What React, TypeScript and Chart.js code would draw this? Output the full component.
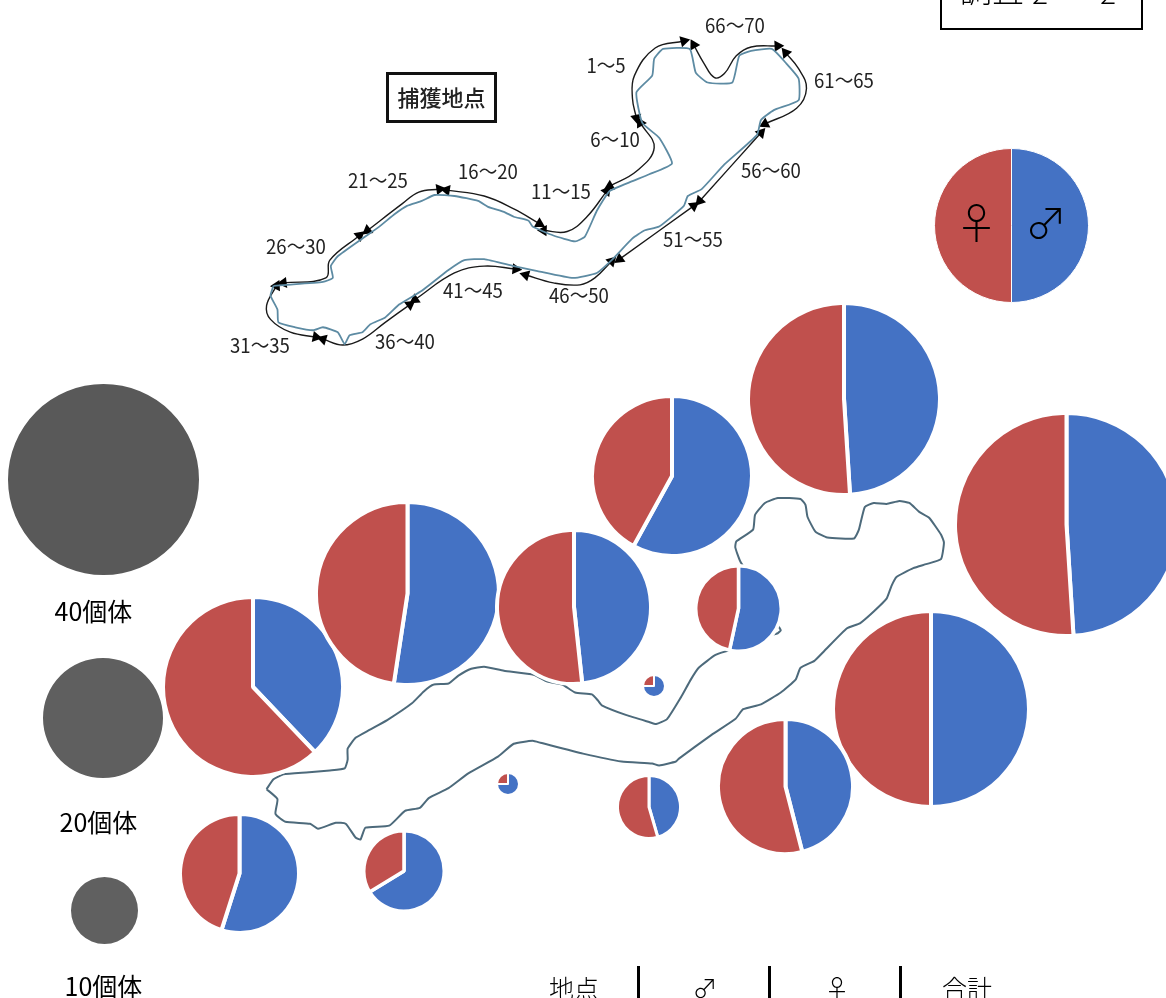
import React, { useEffect, useRef } from "react";
import { Chart, registerables } from "chart.js";

Chart.register(...registerables);

const BLUE = "#4472C4";
const RED = "#C0504D";
const FONT = '"Noto Sans CJK JP", sans-serif';

// --- Data ---
const sexLabels = ["♂", "♀"];
const sitePieNames = ["凡例", "a", "b", "c", "d", "e", "f", "g", "h", "i", "j", "k", "l", "m", "n"];
const maleShare = [50, 49, 58, 49, 37.9, 52.4, 48.3, 53.4, 50, 46, 45.5, 54.9, 66.3, 75, 75];
const femaleShare = [50, 51, 42, 51, 62.1, 47.6, 51.7, 46.6, 50, 54, 54.5, 45.1, 33.7, 25, 25];
const scaleLabels = ["40個体", "20個体", "10個体"];
const tableHeaders = ["地点", "♂", "♀", "合計"];
const boxTitle = "捕獲地点";
const rangeLabels = ["1～5", "6～10", "11～15", "16～20", "21～25", "26～30", "31～35", "36～40", "41～45", "46～50", "51～55", "56～60", "61～65", "66～70"];

type P = [number, number];

const lowerCoastA: P[] = [
  [263,793],[270,783],[280,778],[303,776],[327,774],[342,772],[345,763],[345,752],[353,741],[367,733],[385,723],[410,706],[422,694],[432,687],[447,686],[457,678],[470,671],[483,669],[503,673],[533,677],[547,684],[562,687],[575,695],[592,697],[598,703],[602,708],[627,718],[650,725],[657,727],[668,722],[682,700],[692,682],[700,670],[717,657],[733,652],[755,648],[770,638],[780,635],[783,632],[780,627],[765,600],[742,562],[737,548],[738,542],[755,530],[757,515],[767,503],[780,498],[803,499],[808,505],[810,517],[818,532],[830,538],[857,539],[862,530],[868,507],[877,503],[890,504],[903,501],[913,503],[923,512],[933,518],[945,535],[948,543],[945,560],[930,565],[917,569],[900,578],[895,587],[890,600],[877,613],[863,625],[850,630],[827,653],[817,663],[803,670],[798,682],[783,695],[763,707],[745,712],[737,722],[713,738],[680,762],[677,765],[660,769],[653,767],[622,765],[583,757],[540,746],[532,744],[513,747],[497,760],[467,777],[447,792],[427,802],[418,812],[403,815],[387,830],[363,832],[358,844],[353,842],[343,828],[333,827],[315,833],[307,828],[282,826],[272,818],[274,803],[263,793],
];

const upperCoast: P[] = [
  [270,283],[283,282],[320,279],[330,275],[328,263],[335,253],[360,235],[377,223],[393,210],[405,202],[420,197],[433,191],[453,192],[477,197],[487,203],[503,208],[513,213],[528,217],[532,223],[553,232],[575,238],[585,233],[597,207],[610,187],[633,177],[650,170],[673,159],[660,133],[643,118],[637,87],[653,70],[655,53],[664,43],[691,43],[697,67],[709,77],[734,77],[741,50],[753,45],[774,43],[788,57],[801,73],[801,95],[776,105],[763,115],[759,130],[726,160],[703,185],[689,192],[685,202],[660,223],[645,227],[633,235],[612,257],[597,270],[573,275],[537,268],[513,263],[483,256],[463,257],[447,267],[420,288],[397,302],[383,315],[368,322],[360,330],[347,333],[342,342],[335,330],[320,325],[310,328],[292,325],[275,320],[274,307],[267,293],[270,283],
];

const rangeArrows: P[][] = [
  [[685,35],[656,42],[635,70],[633,93],[637,113]],
  [[610,182],[637,167],[655,143],[641,118]],
  [[543,227],[567,228],[587,213],[607,187]],
  [[445,186],[483,192],[513,205],[539,220]],
  [[365,227],[400,200],[417,188],[438,185]],
  [[280,280],[323,275],[327,257],[357,232]],
  [[313,335],[287,330],[267,317],[263,303],[273,283]],
  [[408,302],[383,320],[360,337],[340,343],[320,337]],
  [[515,266],[483,263],[453,270],[413,297]],
  [[612,258],[595,275],[580,282],[553,280],[525,272]],
  [[695,202],[620,256]],
  [[763,128],[701,197]],
  [[788,47],[801,63],[809,83],[799,103],[767,119]],
  [[695,39],[705,57],[716,72],[726,68],[738,50],[753,41],[780,40]],
];

// --- Layout (pixels on the page) ---
const pieLayout: { cx: number; cy: number; r: number; bw: number }[] = [
  { cx: 1011.5, cy: 225.5, r: 77, bw: 1 },
  { cx: 843.5, cy: 398.5, r: 95.5, bw: 4 },
  { cx: 672, cy: 475.5, r: 79.5, bw: 4 },
  { cx: 1066, cy: 524.5, r: 111, bw: 4 },
  { cx: 252.5, cy: 686.5, r: 89.5, bw: 4 },
  { cx: 407.5, cy: 593.5, r: 91, bw: 4 },
  { cx: 574, cy: 606.5, r: 76.5, bw: 4 },
  { cx: 738, cy: 608, r: 42, bw: 3.5 },
  { cx: 931, cy: 708.5, r: 97.5, bw: 4 },
  { cx: 785, cy: 786, r: 67, bw: 4 },
  { cx: 649, cy: 807, r: 31, bw: 3 },
  { cx: 239, cy: 873, r: 59, bw: 4 },
  { cx: 404, cy: 870.5, r: 39.5, bw: 3.5 },
  { cx: 654, cy: 686, r: 10.5, bw: 2 },
  { cx: 507.5, cy: 784, r: 10.5, bw: 2 },
];
const scaleCircles = [
  { cx: 103.5, cy: 479.5, r: 95.5, color: "#595959", lx: 93.5, ly: 609.5 },
  { cx: 102.5, cy: 717.5, r: 60, color: "#5f5f5f", lx: 98.5, ly: 820.5 },
  { cx: 104.5, cy: 910, r: 33.5, color: "#606060", lx: 103.5, ly: 985 },
];
const rangeLabelPos: P[] = [
  [606,65],[615,139],[561,191],[488,171],[378,180],[296,246],[260,345],[405,341],[473,290],[579,295],[693,239],[771,170],[844,80],[735,25],
];
const headerPos: P[] = [[574,987],[705,987],[837,987],[967,987]];
const separatorX = [638, 769, 900];

function Pie({ values, colors, layout }: { values: number[]; colors: string[]; layout: { cx: number; cy: number; r: number; bw: number } }) {
  const ref = useRef<HTMLCanvasElement>(null);
  const size = Math.round(2 * layout.r + (4 * layout.bw) / 3);
  useEffect(() => {
    const chart = new Chart(ref.current!, {
      type: "pie",
      data: {
        labels: values.length > 1 ? sexLabels : ["個体"],
        datasets: [{ data: values, backgroundColor: colors, borderColor: "#ffffff", borderWidth: layout.bw, hoverOffset: 0 }],
      },
      options: {
        animation: false,
        responsive: false,
        devicePixelRatio: 1,
        layout: { padding: 0 },
        plugins: { legend: { display: false }, tooltip: { enabled: false } },
      },
    });
    return () => chart.destroy();
  }, []);
  return (
    <canvas
      ref={ref}
      width={size}
      height={size}
      style={{ position: "absolute", left: layout.cx - size / 2, top: layout.cy - size / 2, width: size, height: size }}
    />
  );
}

function MapChart() {
  const ref = useRef<HTMLCanvasElement>(null);
  useEffect(() => {
    const toXY = (pts: P[]) => pts.map(([x, y]) => ({ x, y }));
    const rotation = (pts: P[], i: number) => {
      const a = i === 0 ? pts[1] : pts[pts.length - 2];
      const b = pts[i];
      return (Math.atan2(b[0] - a[0], -(b[1] - a[1])) * 180) / Math.PI;
    };
    const chart = new Chart(ref.current!, {
      type: "scatter",
      data: {
        datasets: [
          { data: toXY(lowerCoastA), showLine: true, borderColor: "#4d6a7b", borderWidth: 2, tension: 0.15, pointRadius: 0 },
          { data: toXY(upperCoast), showLine: true, borderColor: "#5d8ba3", borderWidth: 1.8, tension: 0.15, pointRadius: 0 },
          ...rangeArrows.map((pts) => ({
            data: toXY(pts),
            showLine: true,
            borderColor: "#1a1a1a",
            borderWidth: 1.4,
            tension: 0.4,
            pointStyle: "triangle" as const,
            pointBackgroundColor: "#000000",
            pointBorderColor: "#000000",
            pointBorderWidth: 0,
            pointRadius: (c: any) => (c.dataIndex === 0 || c.dataIndex === pts.length - 1 ? 6.5 : 0),
            pointRotation: (c: any) =>
              c.dataIndex === 0 ? rotation(pts, 0) : c.dataIndex === pts.length - 1 ? rotation(pts, pts.length - 1) : 0,
          })),
        ],
      },
      options: {
        animation: false,
        responsive: false,
        devicePixelRatio: 1,
        layout: { padding: 0 },
        plugins: { legend: { display: false }, tooltip: { enabled: false } },
        scales: {
          x: { type: "linear", min: 0, max: 1166, display: false },
          y: { type: "linear", min: 0, max: 998, reverse: true, display: false },
        },
      },
    });
    return () => chart.destroy();
  }, []);
  return <canvas ref={ref} width={1166} height={998} style={{ position: "absolute", left: 0, top: 0, width: 1166, height: 998 }} />;
}

function Label({ x, y, text, size, color = "#000", weight = 400, sx = 1 }: { x: number; y: number; text: string; size: number; color?: string; weight?: number; sx?: number }) {
  return (
    <div
      style={{
        position: "absolute",
        left: x,
        top: y,
        transform: `translate(-50%, -50%) scaleX(${sx})`,
        fontFamily: FONT,
        fontSize: size,
        fontWeight: weight,
        color,
        lineHeight: 1,
        whiteSpace: "nowrap",
      }}
    >
      {text}
    </div>
  );
}

export default function App() {
  useEffect(() => {
    document.body.style.margin = "0";
    document.body.style.background = "#fff";
    document.documentElement.style.overflow = "hidden";
  }, []);
  return (
    <div style={{ position: "relative", width: 1166, height: 998, overflow: "hidden", background: "#fff" }}>
      <MapChart />
      {scaleCircles.map((c, i) => (
        <Pie key={"s" + i} values={[1]} colors={[c.color]} layout={{ cx: c.cx, cy: c.cy, r: c.r, bw: 0 }} />
      ))}
      {pieLayout.map((l, i) => (
        <Pie key={sitePieNames[i]} values={[maleShare[i], femaleShare[i]]} colors={[BLUE, RED]} layout={l} />
      ))}
      {rangeLabels.map((t, i) => (
        <Label key={t} x={rangeLabelPos[i][0]} y={rangeLabelPos[i][1]} text={t} size={20} sx={0.93} color="#222" />
      ))}
      <div
        style={{
          position: "absolute",
          left: 386,
          top: 72,
          width: 111,
          height: 51,
          boxSizing: "border-box",
          border: "3px solid #111",
          paddingBottom: 3,
          display: "flex",
          alignItems: "center",
          justifyContent: "center",
          fontFamily: FONT,
          fontSize: 22,
          fontWeight: 500,
          color: "#222",
        }}
      >
        {boxTitle}
      </div>
      <div
        style={{
          position: "absolute",
          left: 940,
          top: -60,
          width: 203,
          height: 90,
          boxSizing: "border-box",
          border: "2px solid #000",
          background: "#fff",
        }}
      />
      <Label x={992} y={-12} text="調査" size={32} weight={300} />
      <Label x={1040} y={-9} text="2" size={30} weight={300} />
      <Label x={1108} y={-9} text="2" size={30} weight={300} />
      <Label x={976.5} y={221} text="♀" size={42} weight={300} />
      <Label x={1046} y={221} text="♂" size={42} weight={300} />
      {scaleCircles.map((c, i) => (
        <Label key={scaleLabels[i]} x={c.lx} y={c.ly} text={scaleLabels[i]} size={25} />
      ))}
      {tableHeaders.map((t, i) => (
        <Label key={t} x={headerPos[i][0]} y={headerPos[i][1]} text={t} size={25} weight={300} />
      ))}
      {separatorX.map((x) => (
        <div key={x} style={{ position: "absolute", left: x - 1.5, top: 966, width: 3, height: 32, background: "#000" }} />
      ))}
    </div>
  );
}
